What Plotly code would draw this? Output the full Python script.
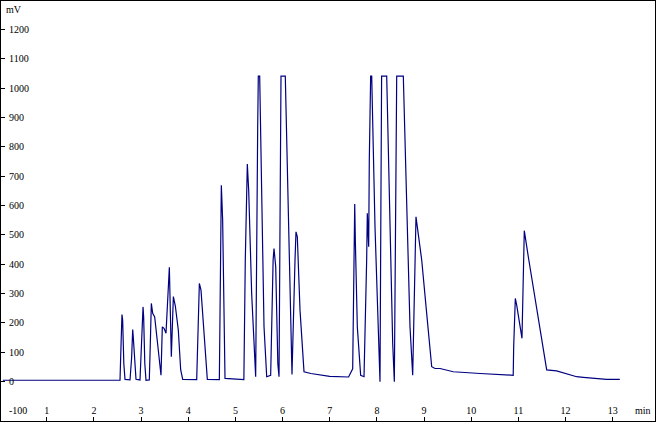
import plotly.graph_objects as go

# Chromatogram trace (time in min, signal in mV)
time_min = [
    0.07, 2.554, 2.575, 2.596, 2.61, 2.635, 2.66, 2.766, 2.80, 2.823, 2.835, 2.865, 2.893, 2.978,
    3.015, 3.042, 3.055, 3.08, 3.105, 3.175, 3.20, 3.218, 3.247, 3.289, 3.35, 3.423, 3.451, 3.487,
    3.529, 3.575, 3.60, 3.642, 3.685, 3.727, 3.79, 3.84, 3.883, 4.18, 4.21, 4.236, 4.271,
    4.356, 4.405, 4.66, 4.685, 4.702, 4.73, 4.759, 4.78, 5.18, 5.21, 5.253,
    5.282, 5.345, 5.40, 5.43, 5.473, 5.486, 5.515, 5.558, 5.607, 5.664, 5.748,
    5.80, 5.819, 5.855, 5.90, 5.925, 5.95, 5.967, 6.058, 6.122, 6.173, 6.20, 6.264,
    6.285, 6.313, 6.37, 6.455, 6.50, 6.60, 7.00, 7.40, 7.487, 7.515,
    7.53, 7.543, 7.585, 7.656, 7.727, 7.783, 7.797, 7.826, 7.839, 7.868,
    7.89, 7.96, 8.03, 8.066, 8.085, 8.10, 8.208, 8.278, 8.335, 8.37, 8.40, 8.42,
    8.56, 8.632, 8.702, 8.759, 8.80, 8.829, 8.857, 8.95, 9.069, 9.162,
    9.232, 9.338, 9.62, 9.90, 10.186, 10.89, 10.90, 10.935, 10.964, 11.076,
    11.125, 11.21, 11.316, 11.458, 11.60, 11.81, 11.95, 12.235, 12.376, 12.66,
    12.87, 13.15,
]
signal_mv = [
    4, 4, 120, 228, 209, 60, 7, 5, 80, 177, 152, 50, 7, 5,
    120, 254, 220, 60, 4, 5, 150, 266, 232, 220, 130, 21, 186, 181,
    164, 300, 389, 84, 289, 257, 175, 40, 7, 6, 200, 334, 311,
    118, 7, 6, 420, 669, 550, 186, 10, 6, 414, 741,
    652, 300, 80, 16, 868, 1041, 1041, 641, 186, 16, 21,
    414, 453, 391, 60, 16, 600, 1041, 1041, 539, 130, 24, 414,
    510, 493, 243, 33, 31, 27, 17, 15, 43, 414,
    605, 482, 186, 21, 16, 414, 573, 459, 755, 1041,
    1041, 527, 130, -1, 600, 1041, 1041, 527, 130, -1, 600, 1041,
    1041, 641, 186, 21, 414, 561, 527, 414, 209, 50,
    44, 44, 33, 29, 27, 21, 118, 283, 260, 147,
    514, 425, 323, 175, 39, 36, 30, 16, 14, 10,
    7, 7,
]

x_ticks = list(range(1, 14))
y_ticks = list(range(-100, 1300, 100))

FONT = "Liberation Serif"

fig = go.Figure()
fig.add_trace(go.Scatter(
    x=time_min, y=signal_mv, mode="lines",
    line=dict(color="#000080", width=1.2),
    hoverinfo="skip", showlegend=False,
))

# y tick labels drawn as text next to the inside ticks
y_label_annotations = [
    dict(text=str(v), xref="paper", yref="y", x=0.0, y=v, xshift=6,
         xanchor="left", yanchor="middle", showarrow=False,
         font=dict(family=FONT, size=10, color="black"))
    for v in y_ticks
]

fig.update_layout(
    width=657, height=423,
    margin=dict(l=1, r=2, t=1, b=2),
    paper_bgcolor="white", plot_bgcolor="white",
    font=dict(family=FONT, size=10, color="black"),
    xaxis=dict(
        range=[0.031, 13.896], tickvals=x_ticks, ticktext=[str(v) for v in x_ticks],
        ticks="inside", ticklen=4, tickcolor="black", ticklabelposition="inside",
        showgrid=False, zeroline=False, showline=True, linecolor="black",
        linewidth=1, mirror=True, tickfont=dict(family=FONT, size=10, color="black"),
    ),
    yaxis=dict(
        range=[-135, 1297], tickvals=y_ticks, showticklabels=False,
        ticks="inside", ticklen=4, tickcolor="black",
        showgrid=False, zeroline=False, showline=True, linecolor="black",
        linewidth=1, mirror=True,
    ),
    annotations=y_label_annotations + [
        dict(text="mV", xref="paper", yref="paper", x=0.004, y=0.997,
             xanchor="left", yanchor="top", showarrow=False,
             font=dict(family=FONT, size=10, color="black")),
        dict(text="min", xref="paper", yref="paper", x=0.997, y=0.008,
             xanchor="right", yanchor="bottom", showarrow=False,
             font=dict(family=FONT, size=10, color="black")),
    ],
)

fig.write_html("out.html", config={"displayModeBar": False},
               post_script="document.body.style.margin='0';")
